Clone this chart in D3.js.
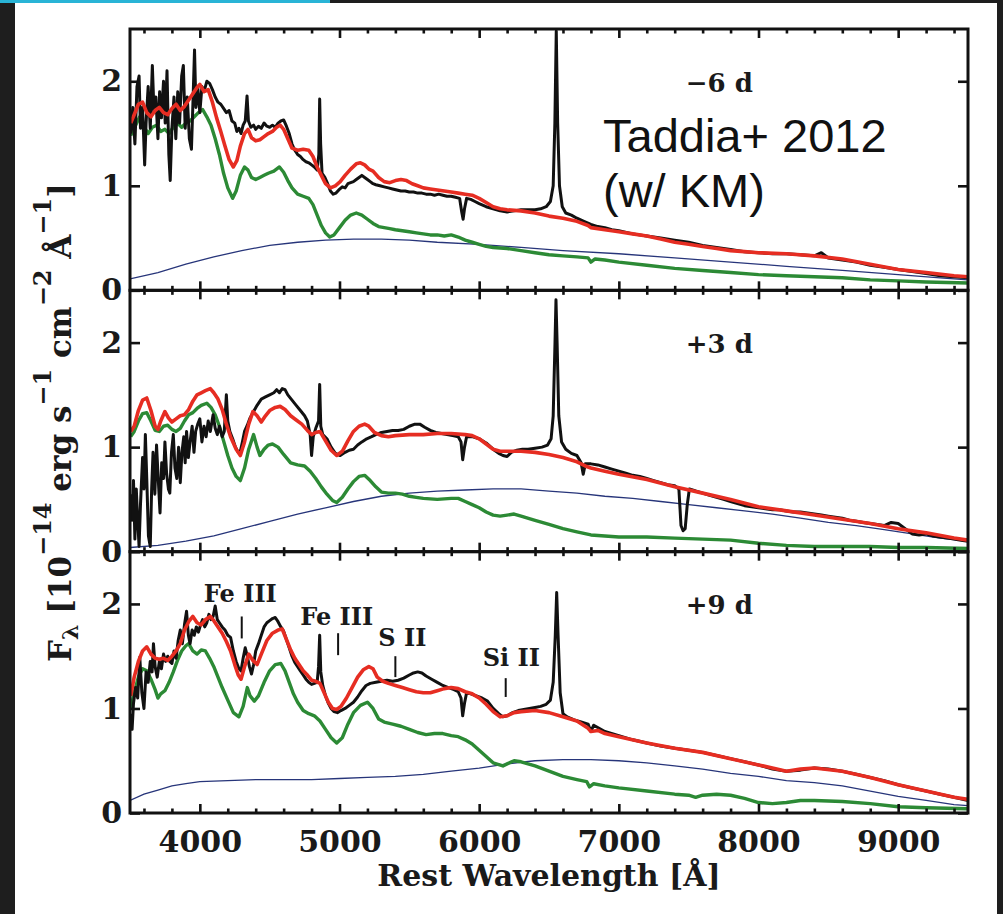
<!DOCTYPE html>
<html>
<head>
<meta charset="utf-8">
<script src="https://cdn.jsdelivr.net/npm/d3@7"></script>
<style>
  html, body { margin: 0; padding: 0; background: #1e1e1e; }
  svg { display: block; }
  .serif { font-family: "DejaVu Serif", serif; font-weight: bold; fill: #1a1a1a; }
</style>
</head>
<body>
<svg id="chart" width="1003" height="914"></svg>
<script>
// ---------------------------------------------------------------
// Spectra: [rest wavelength (Å), F_lambda (1e-14 erg/s/cm^2/Å)]
// ---------------------------------------------------------------

// ---- epoch -6 d ----
const obsM6 = [[3505,1.50],[3520,1.75],[3535,1.40],[3550,1.95],[3565,2.05],[3575,1.55],[3590,1.75],[3605,1.20],[3615,1.60],[3630,1.95],[3645,1.55],[3660,2.15],[3672,1.70],[3685,1.85],[3700,1.45],[3712,1.90],[3725,1.65],[3740,2.00],[3752,1.60],[3765,2.10],[3778,1.30],[3788,1.05],[3800,1.55],[3815,1.85],[3828,1.45],[3842,1.90],[3855,1.60],[3870,2.05],[3882,2.15],[3895,1.55],[3910,1.85],[3925,1.45],[3940,1.35],[3952,1.85],[3962,2.30],[3972,1.75],[3985,1.95],[4000,1.70],[4015,1.95],[4030,1.90],[4050,2.00],[4070,1.98],[4090,1.92],[4110,1.85],[4130,1.80],[4150,1.78],[4170,1.74],[4190,1.70],[4210,1.72],[4230,1.62],[4250,1.60],[4265,1.52],[4280,1.55],[4295,1.50],[4310,1.58],[4325,1.62],[4338,1.86],[4348,1.62],[4365,1.56],[4385,1.58],[4400,1.54],[4420,1.57],[4440,1.55],[4460,1.60],[4480,1.57],[4500,1.56],[4520,1.58],[4540,1.56],[4560,1.60],[4580,1.62],[4600,1.63],[4620,1.57],[4640,1.50],[4660,1.40],[4680,1.34],[4700,1.30],[4720,1.28],[4740,1.25],[4760,1.23],[4780,1.22],[4800,1.20],[4820,1.18],[4840,1.15],[4852,1.30],[4858,1.83],[4865,1.40],[4875,1.12],[4895,1.08],[4915,1.02],[4935,0.95],[4955,0.92],[4975,0.93],[4995,0.96],[5020,0.99],[5040,0.98],[5060,1.02],[5080,1.03],[5100,1.04],[5120,1.06],[5140,1.08],[5160,1.10],[5180,1.08],[5200,1.06],[5220,1.04],[5240,1.02],[5260,1.01],[5290,1.00],[5320,0.99],[5350,0.98],[5380,0.97],[5410,0.96],[5440,0.95],[5470,0.95],[5500,0.94],[5530,0.94],[5560,0.93],[5590,0.93],[5620,0.92],[5650,0.92],[5680,0.91],[5710,0.92],[5740,0.91],[5770,0.90],[5800,0.90],[5830,0.89],[5860,0.88],[5875,0.75],[5885,0.68],[5895,0.78],[5910,0.88],[5940,0.87],[5970,0.85],[6000,0.83],[6050,0.80],[6100,0.78],[6150,0.76],[6200,0.75],[6250,0.76],[6300,0.77],[6350,0.77],[6400,0.77],[6440,0.78],[6480,0.80],[6510,0.85],[6530,1.00],[6542,1.60],[6552,2.48],[6562,1.60],[6575,1.00],[6595,0.80],[6620,0.74],[6660,0.72],[6700,0.69],[6750,0.66],[6800,0.63],[6850,0.61],[6900,0.60],[6950,0.58],[7000,0.57],[7100,0.54],[7200,0.52],[7300,0.50],[7400,0.48],[7500,0.46],[7600,0.43],[7700,0.41],[7800,0.39],[7900,0.37],[8000,0.36],[8100,0.35],[8200,0.35],[8300,0.34],[8400,0.33],[8450,0.36],[8500,0.31],[8600,0.29],[8700,0.27],[8800,0.24],[8900,0.22],[9000,0.20],[9100,0.18],[9200,0.16],[9300,0.14],[9400,0.13],[9500,0.12]];
const modelM6 = [[3505,1.60],[3530,1.68],[3560,1.78],[3590,1.80],[3620,1.70],[3650,1.66],[3680,1.72],[3710,1.75],[3740,1.70],[3770,1.68],[3800,1.74],[3830,1.78],[3860,1.72],[3890,1.76],[3920,1.82],[3950,1.88],[3980,1.94],[4000,1.97],[4030,1.90],[4060,1.92],[4090,1.80],[4120,1.65],[4150,1.52],[4180,1.38],[4210,1.25],[4240,1.18],[4265,1.24],[4290,1.38],[4320,1.50],[4345,1.54],[4370,1.46],[4400,1.43],[4430,1.44],[4460,1.47],[4490,1.50],[4520,1.52],[4550,1.56],[4575,1.58],[4600,1.54],[4630,1.45],[4660,1.36],[4700,1.34],[4740,1.35],[4780,1.34],[4810,1.28],[4840,1.18],[4870,1.10],[4900,1.02],[4935,0.98],[4970,1.00],[5005,1.04],[5040,1.10],[5080,1.16],[5120,1.21],[5150,1.22],[5180,1.20],[5210,1.16],[5240,1.14],[5280,1.08],[5320,1.04],[5360,1.03],[5400,1.05],[5440,1.06],[5480,1.05],[5520,1.02],[5560,1.00],[5600,0.98],[5650,0.97],[5700,0.96],[5750,0.95],[5800,0.94],[5850,0.93],[5900,0.92],[5950,0.91],[6000,0.88],[6050,0.84],[6100,0.80],[6150,0.78],[6200,0.77],[6300,0.76],[6400,0.74],[6500,0.71],[6600,0.69],[6700,0.66],[6780,0.62],[6800,0.60],[6900,0.58],[7000,0.56],[7100,0.54],[7200,0.52],[7300,0.49],[7400,0.46],[7500,0.44],[7600,0.42],[7700,0.40],[7800,0.38],[7900,0.37],[8000,0.36],[8200,0.35],[8400,0.33],[8600,0.30],[8800,0.25],[9000,0.20],[9200,0.17],[9400,0.14],[9500,0.13]];
const compM6 = [[3505,1.48],[3540,1.58],[3570,1.66],[3600,1.56],[3630,1.50],[3660,1.56],[3690,1.58],[3720,1.52],[3750,1.54],[3780,1.50],[3810,1.56],[3840,1.60],[3870,1.56],[3900,1.60],[3930,1.62],[3960,1.66],[3990,1.70],[4020,1.73],[4050,1.66],[4080,1.58],[4110,1.45],[4140,1.30],[4170,1.12],[4200,0.98],[4235,0.88],[4260,0.95],[4290,1.10],[4320,1.18],[4345,1.15],[4370,1.08],[4400,1.06],[4430,1.08],[4460,1.10],[4490,1.12],[4530,1.14],[4570,1.18],[4600,1.13],[4630,1.05],[4660,0.98],[4700,0.92],[4740,0.90],[4780,0.88],[4810,0.82],[4840,0.72],[4870,0.62],[4900,0.55],[4930,0.51],[4960,0.53],[5000,0.60],[5040,0.67],[5080,0.72],[5120,0.74],[5160,0.72],[5200,0.68],[5240,0.64],[5280,0.61],[5320,0.60],[5360,0.59],[5400,0.58],[5450,0.57],[5500,0.56],[5550,0.55],[5600,0.54],[5650,0.53],[5700,0.53],[5750,0.52],[5800,0.53],[5850,0.51],[5900,0.48],[5950,0.46],[6000,0.44],[6050,0.42],[6100,0.41],[6200,0.40],[6300,0.38],[6400,0.36],[6500,0.34],[6600,0.33],[6700,0.32],[6780,0.31],[6800,0.27],[6830,0.30],[6900,0.29],[7000,0.27],[7200,0.24],[7400,0.21],[7600,0.19],[7800,0.17],[8000,0.15],[8200,0.14],[8400,0.13],[8600,0.12],[8800,0.10],[9000,0.09],[9200,0.08],[9500,0.07]];
const contM6 = [[3500,0.11],[3700,0.17],[3900,0.25],[4100,0.32],[4300,0.38],[4500,0.43],[4700,0.46],[4900,0.48],[5100,0.49],[5300,0.49],[5500,0.48],[5700,0.46],[6000,0.44],[6300,0.41],[6600,0.38],[7000,0.35],[7400,0.31],[7800,0.27],[8200,0.23],[8600,0.19],[9000,0.15],[9300,0.12],[9500,0.10]];

// ---- epoch +3 d ----
const obsP3 = [[3505,0.55],[3515,0.30],[3525,0.68],[3535,0.12],[3545,0.60],[3555,0.30],[3565,0.05],[3575,0.45],[3590,0.90],[3600,0.60],[3610,1.12],[3620,0.70],[3632,0.15],[3645,0.05],[3655,0.60],[3665,0.95],[3678,0.55],[3690,1.02],[3702,0.70],[3715,0.37],[3727,0.85],[3740,0.70],[3750,1.05],[3762,0.75],[3775,0.60],[3785,0.56],[3797,0.95],[3810,1.12],[3822,0.80],[3835,0.70],[3848,1.00],[3860,0.66],[3872,0.95],[3885,1.10],[3895,0.85],[3905,1.15],[3918,0.90],[3930,1.05],[3945,1.20],[3958,0.95],[3970,1.15],[3985,1.22],[4000,1.27],[4015,1.05],[4030,1.20],[4045,1.10],[4060,1.25],[4075,1.15],[4095,1.31],[4110,1.18],[4125,1.12],[4140,1.20],[4160,1.10],[4175,1.15],[4190,1.50],[4200,1.25],[4215,1.15],[4235,1.08],[4255,1.00],[4275,0.95],[4290,0.96],[4305,1.05],[4320,1.15],[4340,1.21],[4360,1.28],[4385,1.34],[4410,1.40],[4440,1.46],[4470,1.48],[4500,1.50],[4530,1.52],[4550,1.55],[4570,1.52],[4590,1.56],[4610,1.55],[4630,1.50],[4660,1.45],[4690,1.40],[4720,1.35],[4750,1.30],[4770,1.25],[4790,1.12],[4800,0.92],[4812,1.10],[4830,1.18],[4850,1.25],[4858,1.60],[4866,1.20],[4880,1.12],[4910,1.08],[4940,1.00],[4970,0.94],[5005,0.92],[5040,0.95],[5070,0.97],[5100,0.98],[5130,1.02],[5160,1.05],[5195,1.08],[5230,1.10],[5260,1.12],[5300,1.14],[5340,1.15],[5380,1.16],[5420,1.16],[5460,1.17],[5500,1.20],[5540,1.22],[5575,1.22],[5610,1.19],[5650,1.16],[5690,1.14],[5730,1.13],[5770,1.12],[5810,1.11],[5850,1.10],[5870,1.05],[5882,0.88],[5895,1.00],[5910,1.10],[5950,1.10],[6000,1.08],[6050,1.04],[6100,0.98],[6140,0.94],[6170,0.92],[6200,0.91],[6230,0.95],[6270,0.97],[6310,0.98],[6350,0.98],[6400,0.99],[6450,1.00],[6490,1.02],[6515,1.08],[6530,1.30],[6543,2.00],[6550,2.41],[6558,2.00],[6570,1.30],[6590,1.05],[6620,0.98],[6660,0.94],[6700,0.92],[6730,0.85],[6745,0.74],[6760,0.84],[6800,0.84],[6850,0.83],[6900,0.81],[6950,0.79],[7000,0.77],[7050,0.75],[7100,0.73],[7150,0.72],[7200,0.70],[7250,0.68],[7300,0.66],[7350,0.64],[7400,0.63],[7430,0.60],[7445,0.25],[7460,0.20],[7475,0.22],[7490,0.45],[7505,0.60],[7550,0.58],[7600,0.56],[7650,0.54],[7700,0.52],[7750,0.50],[7800,0.48],[7850,0.46],[7900,0.44],[7950,0.43],[8000,0.42],[8050,0.41],[8100,0.40],[8150,0.40],[8200,0.39],[8250,0.38],[8300,0.38],[8350,0.37],[8400,0.36],[8450,0.35],[8500,0.34],[8550,0.33],[8600,0.32],[8650,0.30],[8700,0.29],[8750,0.28],[8800,0.27],[8850,0.26],[8900,0.25],[8950,0.28],[9000,0.27],[9050,0.22],[9100,0.17],[9150,0.16],[9200,0.17],[9250,0.15],[9300,0.14],[9350,0.13],[9400,0.12],[9450,0.11],[9500,0.10]];
const modelP3 = [[3505,1.15],[3530,1.20],[3560,1.35],[3590,1.45],[3620,1.47],[3650,1.35],[3680,1.20],[3700,1.17],[3720,1.25],[3750,1.34],[3775,1.28],[3800,1.24],[3830,1.27],[3860,1.30],[3890,1.31],[3920,1.36],[3950,1.44],[3980,1.50],[4010,1.52],[4040,1.54],[4075,1.56],[4100,1.52],[4130,1.46],[4160,1.36],[4190,1.22],[4220,1.10],[4260,0.98],[4290,0.92],[4320,1.05],[4350,1.22],[4380,1.34],[4410,1.30],[4440,1.24],[4470,1.30],[4500,1.35],[4540,1.38],[4575,1.39],[4610,1.36],[4650,1.30],[4690,1.26],[4730,1.22],[4770,1.16],[4800,1.12],[4830,1.14],[4860,1.15],[4900,1.06],[4940,0.97],[4980,0.92],[5020,0.96],[5060,1.06],[5100,1.15],[5140,1.20],[5180,1.22],[5210,1.20],[5250,1.14],[5300,1.11],[5350,1.10],[5400,1.11],[5500,1.12],[5600,1.12],[5700,1.13],[5800,1.13],[5900,1.12],[5950,1.11],[6000,1.08],[6050,1.03],[6100,0.98],[6150,0.96],[6200,0.96],[6300,0.96],[6400,0.95],[6500,0.93],[6600,0.90],[6700,0.86],[6760,0.82],[6800,0.80],[6900,0.77],[7000,0.74],[7200,0.69],[7400,0.62],[7600,0.56],[7800,0.50],[8000,0.43],[8200,0.39],[8400,0.35],[8600,0.31],[8800,0.27],[9000,0.22],[9200,0.18],[9400,0.13],[9500,0.11]];
const compP3 = [[3505,1.10],[3530,1.15],[3560,1.25],[3590,1.32],[3620,1.33],[3650,1.25],[3680,1.16],[3710,1.15],[3740,1.20],[3770,1.21],[3800,1.17],[3830,1.15],[3860,1.18],[3890,1.25],[3920,1.31],[3950,1.33],[3980,1.37],[4010,1.40],[4050,1.42],[4080,1.38],[4110,1.31],[4140,1.20],[4170,1.06],[4200,0.92],[4230,0.80],[4260,0.72],[4290,0.68],[4320,0.80],[4350,0.98],[4385,1.12],[4410,1.00],[4430,0.92],[4460,0.98],[4490,1.02],[4520,1.03],[4560,1.00],[4600,0.93],[4650,0.85],[4700,0.83],[4750,0.82],[4790,0.77],[4830,0.70],[4870,0.62],[4910,0.55],[4950,0.49],[4980,0.47],[5020,0.52],[5060,0.60],[5100,0.67],[5140,0.72],[5180,0.73],[5220,0.68],[5260,0.62],[5300,0.57],[5350,0.56],[5400,0.56],[5450,0.55],[5500,0.53],[5550,0.52],[5600,0.51],[5700,0.50],[5800,0.51],[5850,0.51],[5900,0.48],[5950,0.45],[6000,0.42],[6050,0.38],[6100,0.35],[6150,0.34],[6200,0.35],[6250,0.36],[6300,0.34],[6400,0.30],[6500,0.26],[6600,0.22],[6700,0.19],[6800,0.16],[6900,0.15],[7000,0.14],[7200,0.14],[7400,0.13],[7600,0.12],[7800,0.11],[8000,0.08],[8200,0.06],[8400,0.05],[8600,0.05],[8800,0.05],[9000,0.04],[9200,0.04],[9500,0.03]];
const contP3 = [[3500,0.04],[3700,0.06],[3900,0.10],[4100,0.15],[4300,0.22],[4500,0.29],[4700,0.36],[4900,0.42],[5100,0.48],[5300,0.53],[5500,0.56],[5700,0.58],[5900,0.59],[6100,0.60],[6300,0.60],[6500,0.58],[6700,0.56],[6900,0.53],[7100,0.51],[7300,0.48],[7500,0.45],[7700,0.42],[7900,0.39],[8100,0.36],[8300,0.32],[8500,0.28],[8700,0.25],[8900,0.21],[9100,0.17],[9300,0.13],[9500,0.10]];

// ---- epoch +9 d ----
const obsP9 = [[3505,0.95],[3515,0.80],[3525,1.05],[3540,1.20],[3555,1.10],[3570,1.49],[3585,1.15],[3600,1.00],[3615,1.35],[3630,1.25],[3645,1.45],[3658,1.35],[3668,1.62],[3680,1.40],[3695,1.30],[3710,1.45],[3725,1.38],[3740,1.52],[3755,1.45],[3770,1.50],[3785,1.45],[3800,1.43],[3815,1.55],[3830,1.48],[3845,1.65],[3860,1.75],[3875,1.62],[3890,1.80],[3905,1.93],[3918,1.70],[3930,1.62],[3945,1.75],[3960,1.70],[3975,1.78],[3990,1.73],[4005,1.80],[4020,1.85],[4035,1.78],[4050,1.82],[4065,1.90],[4080,1.85],[4095,1.88],[4110,1.98],[4125,1.85],[4140,1.82],[4160,1.78],[4180,1.75],[4200,1.70],[4220,1.68],[4240,1.55],[4260,1.45],[4280,1.38],[4295,1.36],[4310,1.48],[4325,1.58],[4340,1.50],[4355,1.40],[4370,1.33],[4385,1.42],[4400,1.55],[4420,1.62],[4440,1.70],[4460,1.78],[4480,1.82],[4500,1.84],[4520,1.86],[4540,1.87],[4560,1.83],[4580,1.78],[4600,1.74],[4620,1.66],[4640,1.58],[4660,1.50],[4680,1.44],[4700,1.40],[4720,1.36],[4740,1.32],[4760,1.28],[4780,1.25],[4800,1.23],[4820,1.24],[4840,1.25],[4850,1.40],[4858,1.70],[4866,1.35],[4880,1.22],[4900,1.12],[4920,1.05],[4940,1.00],[4960,0.97],[4985,0.96],[5010,0.98],[5040,1.00],[5070,1.03],[5100,1.06],[5130,1.11],[5160,1.17],[5190,1.22],[5220,1.24],[5260,1.25],[5300,1.26],[5340,1.27],[5380,1.26],[5420,1.27],[5460,1.29],[5500,1.32],[5530,1.34],[5560,1.35],[5590,1.34],[5620,1.31],[5660,1.28],[5700,1.25],[5740,1.22],[5780,1.20],[5820,1.18],[5850,1.16],[5870,1.10],[5882,0.93],[5895,1.05],[5910,1.15],[5940,1.14],[5980,1.12],[6020,1.10],[6060,1.07],[6100,1.00],[6140,0.95],[6170,0.92],[6200,0.93],[6240,0.96],[6280,0.98],[6320,0.99],[6360,1.00],[6400,1.01],[6440,1.02],[6480,1.04],[6510,1.08],[6530,1.25],[6545,1.70],[6555,2.11],[6565,1.70],[6580,1.15],[6600,0.95],[6630,0.92],[6680,0.89],[6730,0.87],[6780,0.85],[6800,0.78],[6820,0.84],[6900,0.78],[7000,0.74],[7100,0.70],[7200,0.67],[7300,0.64],[7400,0.62],[7500,0.60],[7600,0.58],[7700,0.55],[7800,0.52],[7900,0.49],[8000,0.46],[8100,0.42],[8200,0.40],[8300,0.41],[8400,0.43],[8500,0.42],[8600,0.40],[8700,0.37],[8800,0.34],[8900,0.31],[9000,0.27],[9100,0.24],[9200,0.21],[9300,0.18],[9400,0.15],[9500,0.12]];
const modelP9 = [[3505,1.12],[3530,1.30],[3560,1.45],[3590,1.55],[3620,1.59],[3650,1.52],[3680,1.48],[3710,1.47],[3740,1.48],[3770,1.46],[3800,1.50],[3830,1.55],[3860,1.62],[3890,1.75],[3920,1.83],[3950,1.88],[3980,1.82],[4010,1.80],[4040,1.85],[4075,1.88],[4100,1.84],[4130,1.78],[4160,1.72],[4190,1.64],[4220,1.55],[4250,1.42],[4275,1.32],[4295,1.28],[4320,1.40],[4350,1.52],[4380,1.46],[4410,1.42],[4440,1.52],[4480,1.65],[4520,1.72],[4560,1.75],[4590,1.76],[4620,1.66],[4650,1.56],[4680,1.48],[4710,1.42],[4740,1.36],[4770,1.32],[4800,1.27],[4830,1.26],[4860,1.24],[4890,1.15],[4920,1.06],[4950,1.00],[4980,0.99],[5010,1.02],[5050,1.10],[5090,1.20],[5130,1.30],[5170,1.37],[5210,1.40],[5240,1.38],[5270,1.30],[5310,1.26],[5350,1.24],[5400,1.22],[5450,1.20],[5500,1.18],[5550,1.16],[5600,1.15],[5650,1.15],[5700,1.17],[5750,1.19],[5800,1.20],[5850,1.19],[5900,1.16],[5950,1.14],[6000,1.10],[6050,1.04],[6100,0.97],[6150,0.92],[6200,0.93],[6250,0.96],[6300,0.97],[6400,0.98],[6500,0.96],[6600,0.92],[6700,0.88],[6780,0.81],[6800,0.78],[6850,0.79],[6900,0.76],[7000,0.73],[7200,0.67],[7400,0.62],[7600,0.58],[7800,0.52],[8000,0.46],[8200,0.40],[8300,0.42],[8400,0.43],[8600,0.40],[8800,0.34],[9000,0.27],[9200,0.21],[9400,0.15],[9500,0.13]];
const compP9 = [[3505,1.00],[3530,1.15],[3560,1.30],[3590,1.38],[3620,1.36],[3650,1.28],[3680,1.18],[3700,1.10],[3720,1.14],[3750,1.17],[3780,1.25],[3810,1.35],[3840,1.46],[3870,1.55],[3900,1.60],[3920,1.62],[3950,1.55],[3980,1.52],[4010,1.56],[4040,1.55],[4070,1.48],[4100,1.40],[4130,1.30],[4160,1.20],[4200,1.08],[4240,0.96],[4280,0.92],[4310,1.02],[4340,1.20],[4360,1.12],[4390,1.07],[4420,1.12],[4460,1.25],[4500,1.36],[4540,1.42],[4580,1.43],[4610,1.36],[4640,1.25],[4670,1.14],[4700,1.06],[4740,0.98],[4780,0.95],[4820,0.93],[4860,0.88],[4900,0.80],[4940,0.72],[4980,0.67],[5020,0.72],[5060,0.85],[5100,0.96],[5150,1.03],[5200,1.06],[5240,1.00],[5280,0.90],[5320,0.87],[5380,0.85],[5440,0.83],[5500,0.80],[5560,0.77],[5620,0.75],[5680,0.76],[5740,0.76],[5800,0.74],[5850,0.73],[5900,0.70],[5950,0.66],[6000,0.60],[6050,0.54],[6100,0.48],[6170,0.45],[6200,0.47],[6250,0.50],[6300,0.49],[6400,0.45],[6500,0.40],[6600,0.35],[6700,0.32],[6770,0.30],[6790,0.25],[6820,0.28],[6900,0.26],[7000,0.24],[7200,0.21],[7400,0.18],[7500,0.17],[7550,0.15],[7600,0.17],[7700,0.18],[7800,0.17],[7900,0.14],[8000,0.10],[8100,0.09],[8200,0.10],[8300,0.12],[8400,0.12],[8600,0.11],[8800,0.09],[9000,0.06],[9200,0.05],[9500,0.04]];
const contP9 = [[3500,0.12],[3600,0.18],[3700,0.22],[3800,0.26],[3900,0.28],[4000,0.30],[4200,0.31],[4400,0.32],[4600,0.32],[4800,0.32],[5000,0.33],[5200,0.34],[5400,0.35],[5600,0.37],[5800,0.40],[6000,0.43],[6200,0.47],[6400,0.50],[6600,0.51],[6800,0.51],[7000,0.50],[7200,0.48],[7400,0.45],[7600,0.42],[7800,0.38],[8000,0.35],[8200,0.31],[8400,0.29],[8600,0.26],[8800,0.21],[9000,0.16],[9200,0.12],[9400,0.08],[9500,0.07]];

// Epoch labels and axis ticks
const epochLabels = ["\u22126 d", "+3 d", "+9 d"];
const xMajorTicks = [4000, 5000, 6000, 7000, 8000, 9000];
const xMinorTicks = d3.range(3600, 9500, 200).filter(v => v % 1000 !== 0);
const yTicks = [0, 1, 2];

// Line identifications in the +9 d spectrum: [label, marker λ, marker top, marker bottom, label λ, label level]
const lineIds = [
  ["Fe III", 4300, 1.88, 1.67, 4290, 2.02],
  ["Fe III", 4990, 1.72, 1.51, 4980, 1.80],
  ["S II",   5400, 1.50, 1.30, 5450, 1.60],
  ["Si II",  6190, 1.29, 1.11, 6230, 1.41]
];

// ---------------------------------------------------------------
const W = 1003, H = 914;
const svg = d3.select("#chart");

// page frame
svg.append("rect").attr("width", W).attr("height", H).attr("fill", "#1e1e1e");
svg.append("rect").attr("x", 15).attr("y", 3).attr("width", 982).attr("height", H - 3).attr("fill", "#ffffff");
svg.append("rect").attr("x", 0).attr("y", 0).attr("width", 330).attr("height", 3).attr("fill", "#29b4d6");

const plotL = 130, plotR = 968, plotT = 29, plotB = 813;
const panelH = (plotB - plotT) / 3;

const x = d3.scaleLinear().domain([3500, 9500]).range([plotL, plotR]);

const panels = [
  { label: epochLabels[0], obs: obsM6, model: modelM6, comp: compM6, cont: contM6 },
  { label: epochLabels[1], obs: obsP3, model: modelP3, comp: compP3, cont: contP3 },
  { label: epochLabels[2], obs: obsP9, model: modelP9, comp: compP9, cont: contP9 }
];

const styleTicks = g => {
  g.select(".domain").remove();
  g.selectAll(".tick line").attr("stroke", "#111").attr("stroke-width", 2.6);
  g.selectAll(".tick text")
    .attr("class", "serif")
    .style("font-family", "'DejaVu Serif', serif")
    .style("font-weight", "bold")
    .style("font-size", "30px")
    .attr("fill", "#1a1a1a");
};

panels.forEach((p, i) => {
  const top = plotT + i * panelH, bottom = top + panelH;
  const y = d3.scaleLinear().domain([0, 2.5]).range([bottom, top]);
  const g = svg.append("g");

  const clipId = "clip" + i;
  svg.append("clipPath").attr("id", clipId)
    .append("rect").attr("x", plotL).attr("y", top).attr("width", plotR - plotL).attr("height", panelH);

  const line = d3.line().x(d => x(d[0])).y(d => y(d[1]));
  const curves = g.append("g").attr("clip-path", `url(#${clipId})`);

  curves.append("path").datum(p.cont).attr("d", line)
    .attr("fill", "none").attr("stroke", "#27357a").attr("stroke-width", 1.3);
  curves.append("path").datum(p.comp).attr("d", line)
    .attr("fill", "none").attr("stroke", "#2c8a35").attr("stroke-width", 3.4).attr("stroke-linejoin", "round");
  curves.append("path").datum(p.obs).attr("d", line)
    .attr("fill", "none").attr("stroke", "#111").attr("stroke-width", 3).attr("stroke-linejoin", "round");
  curves.append("path").datum(p.model).attr("d", line)
    .attr("fill", "none").attr("stroke", "#e62d22").attr("stroke-width", 3.6).attr("stroke-linejoin", "round");

  // ticks on all four sides, pointing inward
  g.append("g").attr("transform", `translate(0,${bottom})`)
    .call(d3.axisBottom(x).tickValues(xMinorTicks).tickSize(-4.5).tickFormat("")).call(styleTicks);
  g.append("g").attr("transform", `translate(0,${top})`)
    .call(d3.axisTop(x).tickValues(xMinorTicks).tickSize(-4.5).tickFormat("")).call(styleTicks);
  g.append("g").attr("transform", `translate(0,${top})`)
    .call(d3.axisTop(x).tickValues(xMajorTicks).tickSize(-9).tickFormat("")).call(styleTicks);
  g.append("g").attr("transform", `translate(0,${bottom})`)
    .call(d3.axisBottom(x).tickValues(xMajorTicks).tickSize(-9).tickPadding(18)
      .tickFormat(i === 2 ? d3.format("d") : "")).call(styleTicks);

  g.append("g").attr("transform", `translate(${plotL},0)`)
    .call(d3.axisLeft(y).tickValues(yTicks).tickSize(-10).tickPadding(8).tickFormat(d3.format("d"))).call(styleTicks);
  g.append("g").attr("transform", `translate(${plotR},0)`)
    .call(d3.axisRight(y).tickValues(yTicks).tickSize(-10).tickFormat("")).call(styleTicks);

  // panel frame
  g.append("rect").attr("x", plotL).attr("y", top).attr("width", plotR - plotL).attr("height", panelH)
    .attr("fill", "none").attr("stroke", "#111").attr("stroke-width", 3);

  // epoch label
  g.append("text").attr("class", "serif")
    .attr("x", x(7720)).attr("y", y(1.9))
    .attr("text-anchor", "middle").style("font-size", "26px")
    .text(p.label);

  if (i === 2) {
    lineIds.forEach(([name, lam, y0, y1, labLam, labY]) => {
      g.append("line").attr("x1", x(lam)).attr("x2", x(lam)).attr("y1", y(y0)).attr("y2", y(y1))
        .attr("stroke", "#111").attr("stroke-width", 2);
      g.append("text").attr("class", "serif")
        .attr("x", x(labLam)).attr("y", y(labY)).attr("text-anchor", "middle")
        .style("font-size", "24px").text(name);
    });
  }
});

// axis titles
svg.append("text").attr("class", "serif")
  .attr("x", (plotL + plotR) / 2).attr("y", 886)
  .attr("text-anchor", "middle").style("font-size", "30px")
  .text("Rest Wavelength [Å]");

const yt = svg.append("text").attr("class", "serif")
  .attr("transform", "translate(71,662) rotate(-90)")
  .attr("text-anchor", "start").style("font-size", "31px");
const parts = [
  ["F", 0, 31], ["λ", 7, 22], [" [10", -7, 31], ["\u221214", -20, 24], [" erg s", 20, 31],
  ["\u22121", -20, 24], [" cm", 20, 31], ["\u22122", -20, 24], [" Å", 20, 31], ["\u22121", -20, 24], ["]", 20, 31]
];
parts.forEach(([t, dy, fs]) => yt.append("tspan").attr("dy", dy).style("font-size", fs + "px").text(t));

// reference note
const note = svg.append("g").style("font-family", "'Liberation Sans', Arial, sans-serif").style("font-size", "47px").attr("fill", "#111");
note.append("text").attr("x", 603).attr("y", 152).text("Taddia+ 2012");
note.append("text").attr("x", 603).attr("y", 207).text("(w/ KM)");
</script>
</body>
</html>
